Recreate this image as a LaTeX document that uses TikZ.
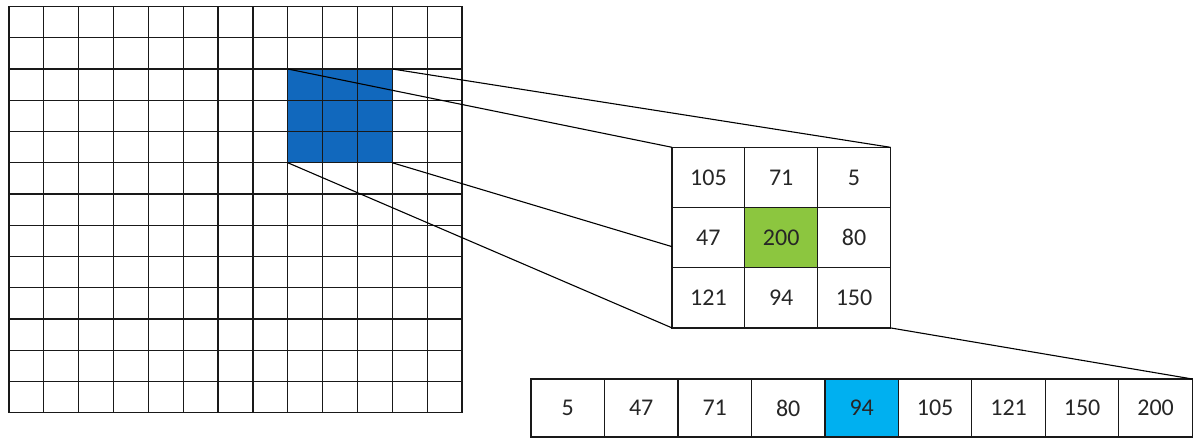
\documentclass[tikz,border=0pt]{standalone}
\usepackage{fontspec}
\setmainfont{Carlito}
\usetikzlibrary{calc}
\definecolor{winblue}{RGB}{17,104,189}
\definecolor{cellgreen}{RGB}{140,198,63}
\definecolor{cellblue}{RGB}{0,176,240}
\begin{document}
\begin{tikzpicture}[x=1pt,y=-1pt,
  gridline/.style={draw=black!90, line width=1.2pt},
  cell/.style={draw=black!90, line width=1.2pt, minimum width=72.8pt, minimum height=60.2pt,
    inner sep=0pt, outer sep=0pt, font=\fontsize{24}{28}\selectfont, text=black!85},
  acell/.style={cell, minimum width=73.48pt, minimum height=58pt},
  link/.style={draw=black, line width=1.1pt}]
\useasboundingbox (0,0) rectangle (1198,438);
% highlighted window in the big grid
\node[fill=winblue, minimum width=104.5pt, minimum height=93.75pt, inner sep=0pt, outer sep=0pt,
  anchor=north west] (win) at (287.8,69) {};
% big grid 13 x 13
\foreach \i in {0,...,13} \draw[gridline] (9+\i*34.846,6.5) -- (9+\i*34.846,412.75);
\foreach \j in {0,...,13} \draw[gridline] (9,6.5+\j*31.25) -- (462,6.5+\j*31.25);
% 3x3 neighbourhood
\node[cell] (m11) at (708.4,177.4) {105};
\node[cell] (m12) at (781.2,177.4) {71};
\node[cell] (m13) at (854.0,177.4) {5};
\node[cell] (m21) at (708.4,237.6) {47};
\node[cell, fill=cellgreen] (m22) at (781.2,237.6) {200};
\node[cell] (m23) at (854.0,237.6) {80};
\node[cell] (m31) at (708.4,297.8) {121};
\node[cell] (m32) at (781.2,297.8) {94};
\node[cell] (m33) at (854.0,297.8) {150};
% sorted array
\node[acell] (a1) at (567.74,408) {5};
\node[acell] (a2) at (641.22,408) {47};
\node[acell] (a3) at (714.70,408) {71};
\node[acell] (a4) at (788.18,408) {80};
\node[acell, fill=cellblue] (a5) at (861.66,408) {94};
\node[acell] (a6) at (935.14,408) {105};
\node[acell] (a7) at (1008.62,408) {121};
\node[acell] (a8) at (1082.10,408) {150};
\node[acell] (a9) at (1155.58,408) {200};
% connectors
\draw[link] (win.north west) -- (m11.north west);
\draw[link] (win.north east) -- (m13.north east);
\draw[link] (win.south east) -- ($(m21.west)!0.3!(m21.south west)$);
\draw[link] (win.south west) -- (m31.south west);
\draw[link] (m33.south east) -- (a9.north east);
\end{tikzpicture}
\end{document}
